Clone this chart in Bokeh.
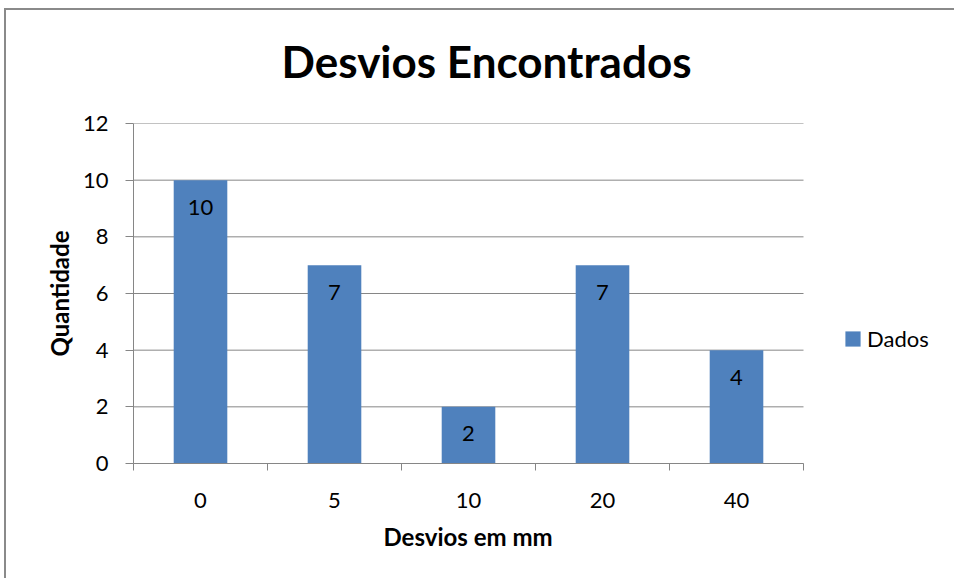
from bokeh.plotting import figure
from bokeh.models import (ColumnDataSource, Range1d, FixedTicker, Legend, LegendItem,
                          LabelSet, Title)
from bokeh.core.properties import value
from bokeh.embed import file_html
from bokeh.resources import INLINE

# ---- data ----
categories = ["0", "5", "10", "20", "40"]
values = [10, 7, 2, 7, 4]
y_ticks = [0, 2, 4, 6, 8, 10, 12]
series_name = "Dados"
title_text = "Desvios Encontrados"
x_title = "Desvios em mm"
y_title = "Quantidade"

FONT = "Lato"
GRAY = "#868686"
BLUE = "#4F81BD"

# layout (pixels)
PLOT_W = 670          # width of the bar area
FRAME_W = 820         # frame also holds the legend area on the right
FRAME_H = 340
n = len(categories)

xs = [i + 0.5 for i in range(n)]
src = ColumnDataSource(dict(x=xs, top=values, lab=[str(v) for v in values]))
grid_src = ColumnDataSource(dict(y=y_ticks, x0=[0] * len(y_ticks), x1=[n] * len(y_ticks)))

line_bg = ("linear-gradient(#8a8a8a, #8a8a8a) 0 16px / 100% 2px no-repeat, "
           "linear-gradient(#8a8a8a, #8a8a8a) 0 16px / 2px 100% no-repeat")

p = figure(frame_width=FRAME_W, frame_height=FRAME_H, output_backend="svg",
           toolbar_location=None,
           x_range=Range1d(0, n * FRAME_W / PLOT_W), y_range=Range1d(0, max(y_ticks)),
           min_border_left=129, min_border_right=1, min_border_top=131,
           min_border_bottom=115, title=None,
           styles={"margin-top": "-8px", "margin-left": "4px", "background": line_bg})
p.outline_line_color = None
p.background_fill_color = "white"
p.border_fill_color = None

t = Title(text=title_text, align="left", text_font=FONT, text_font_size="44px",
          text_font_style="bold", text_color="#000000", standoff=74, offset=148)
p.add_layout(t, "above")

p.segment(x0="x0", x1="x1", y0="y", y1="y", source=grid_src,
          line_color=GRAY, line_width=1)

bars = p.vbar(x="x", top="top", width=0.4, bottom=0, source=src,
              fill_color=BLUE, line_color=None)

labels = LabelSet(x="x", y="top", text="lab", source=src, y_offset=-27,
                  text_align="center", text_baseline="middle",
                  text_font=value(FONT), text_font_size="22px", text_color="#000000")
p.add_layout(labels)

# x axis: ticks at category boundaries, labels at centers
p.xaxis.bounds = (0, n)
p.xaxis.ticker = FixedTicker(ticks=xs, minor_ticks=list(range(n + 1)))
p.xaxis.major_label_overrides = {x: c for x, c in zip(xs, categories)}
p.xaxis.major_tick_out = 0
p.xaxis.major_tick_in = 0
p.xaxis.minor_tick_out = 7
p.xaxis.minor_tick_in = 0
p.xaxis.minor_tick_line_color = GRAY
p.xaxis.axis_line_color = GRAY
p.xaxis.major_label_standoff = 22
p.xaxis.major_label_text_font = FONT
p.xaxis.major_label_text_font_size = "22px"
p.xaxis.major_label_text_color = "#000000"

# x axis title, centred under the bar area
xt = Title(text=x_title, align="left", text_font=FONT, text_font_size="24px",
           text_font_style="bold", text_color="#000000", standoff=18, offset=250)
p.add_layout(xt, "below")

p.yaxis.ticker = FixedTicker(ticks=y_ticks)
p.yaxis.major_tick_out = 8
p.yaxis.major_tick_in = 0
p.yaxis.minor_tick_line_color = None
p.yaxis.major_tick_line_color = GRAY
p.yaxis.axis_line_color = GRAY
p.yaxis.major_label_standoff = 17
p.yaxis.major_label_text_font = FONT
p.yaxis.major_label_text_font_size = "22px"
p.yaxis.major_label_text_color = "#000000"
p.yaxis.axis_label = y_title
p.yaxis.axis_label_text_font = FONT
p.yaxis.axis_label_text_font_size = "24px"
p.yaxis.axis_label_text_font_style = "bold"
p.yaxis.axis_label_text_color = "#000000"
p.yaxis.axis_label_standoff = 6

p.xgrid.visible = False
p.ygrid.visible = False

legend = Legend(items=[LegendItem(label=series_name, renderers=[bars])],
                location=(710, 111), orientation="vertical",
                glyph_width=19, glyph_height=19, label_standoff=5, padding=5,
                border_line_color=None, background_fill_alpha=0,
                label_text_font=FONT, label_text_font_size="22px",
                label_text_color="#000000")
p.add_layout(legend)

open("out.html", "w").write(file_html(p, INLINE))
